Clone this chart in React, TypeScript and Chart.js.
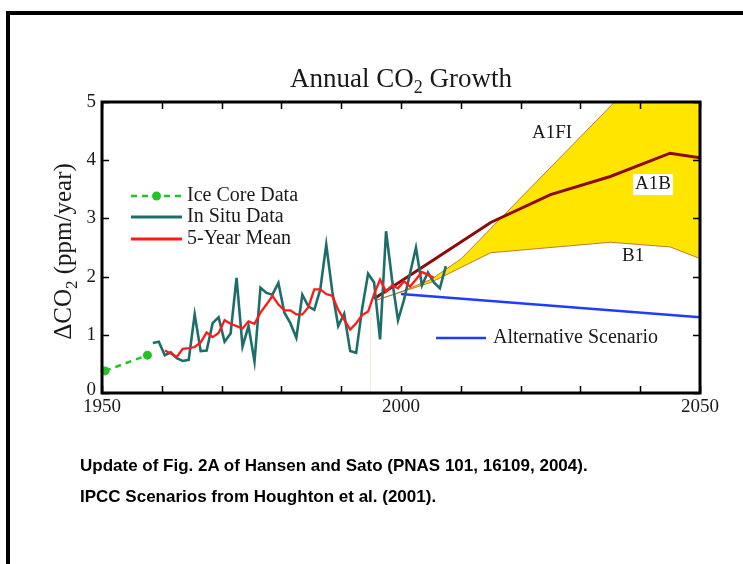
import React, { useEffect, useRef } from "react";
import { Chart, registerables } from "chart.js";

Chart.register(...registerables);

// ---------- data ----------
const iceCoreYears = [1950.5, 1957.6];
const iceCoreValues = [0.38, 0.65];

const inSituYears = [
  1958.5, 1959.5, 1960.5, 1961.5, 1962.5, 1963.5, 1964.5, 1965.5, 1966.5, 1967.5,
  1968.5, 1969.5, 1970.5, 1971.5, 1972.5, 1973.5, 1974.5, 1975.5, 1976.5, 1977.5,
  1978.5, 1979.5, 1980.5, 1981.5, 1982.5, 1983.5, 1984.5, 1985.5, 1986.5, 1987.5,
  1988.5, 1989.5, 1990.5, 1991.5, 1992.5, 1993.5, 1994.5, 1995.5, 1996.5, 1997.5,
  1998.5, 1999.5, 2000.5, 2001.5, 2002.5, 2003.5, 2004.5, 2005.5, 2006.5, 2007.5,
];
const inSituValues = [
  0.86, 0.88, 0.65, 0.7, 0.6, 0.55, 0.57, 1.35, 0.72, 0.73,
  1.2, 1.3, 0.88, 1.02, 1.98, 0.8, 1.15, 0.54, 1.81, 1.72,
  1.69, 1.89, 1.38, 1.2, 0.95, 1.69, 1.49, 1.43, 1.78, 2.55,
  1.75, 1.15, 1.36, 0.72, 0.69, 1.45, 2.05, 1.9, 0.92, 2.78,
  1.95, 1.25, 1.6, 2.05, 2.5, 1.85, 2.07, 1.9, 1.8, 2.18,
];

const meanYears = [
  1960.5, 1961.5, 1962.5, 1963.5, 1964.5, 1965.5, 1966.5, 1967.5, 1968.5, 1969.5,
  1970.5, 1971.5, 1972.5, 1973.5, 1974.5, 1975.5, 1976.5, 1977.5, 1978.5, 1979.5,
  1980.5, 1981.5, 1982.5, 1983.5, 1984.5, 1985.5, 1986.5, 1987.5, 1988.5, 1989.5,
  1990.5, 1991.5, 1992.5, 1993.5, 1994.5, 1995.5, 1996.5, 1997.5, 1998.5, 1999.5,
  2000.5, 2001.5, 2002.5, 2003.5, 2004.5, 2005.5,
];
const meanValues = [
  0.73, 0.68, 0.62, 0.76, 0.77, 0.79, 0.87, 1.04, 0.96, 1.03,
  1.25, 1.19, 1.15, 1.11, 1.23, 1.19, 1.38, 1.52, 1.67, 1.52,
  1.42, 1.42, 1.35, 1.35, 1.47, 1.78, 1.78, 1.7, 1.67, 1.43,
  1.26, 1.09, 1.2, 1.34, 1.4, 1.7, 1.95, 1.74, 1.85, 1.8,
  1.92, 1.83, 1.95, 2.08, 2.03, 1.98,
];

const a1fiYears = [1996, 2000, 2005, 2010, 2020, 2030, 2040, 2050];
const a1fiValues = [1.6, 1.74, 1.95, 2.3, 3.35, 4.4, 5.45, 6.5];

const a1bYears = [1995.5, 2015, 2025, 2035, 2045, 2050];
const a1bValues = [1.62, 2.93, 3.41, 3.72, 4.12, 4.04];

const b1Years = [1996, 2005, 2015, 2035, 2045, 2050];
const b1Values = [1.6, 1.9, 2.41, 2.59, 2.51, 2.31];

const altYears = [2000, 2050];
const altValues = [1.7, 1.3];

const guideYears = [1994.9, 1994.9];
const guideValues = [0, 1.6];

const xTickValues = [1950, 1960, 1970, 1980, 1990, 2000, 2010, 2020, 2030, 2040, 2050];
const xLabelValues = [1950, 2000, 2050];
const xLabels = ["1950", "2000", "2050"];
const yTickValues = [0, 1, 2, 3, 4, 5];
const yLabels = ["0", "1", "2", "3", "4", "5"];

const legendLabels = ["Ice Core Data", "In Situ Data", "5-Year Mean"];
const altLabel = "Alternative Scenario";
const scenarioLabels = ["A1FI", "A1B", "B1"];

// ---------- helpers ----------
const pts = (xs: number[], ys: number[]) => xs.map((x, i) => ({ x, y: ys[i] }));

const SERIF = '"Liberation Serif", "Times New Roman", serif';
const TEXT = "#1a1a1a";

const overlayPlugin = {
  id: "overlay",
  afterDraw(chart: any) {
    const { ctx, chartArea: a, scales } = chart;
    const x = scales.x;
    const y = scales.y;
    ctx.save();

    // axes frame
    ctx.strokeStyle = "#000";
    ctx.lineWidth = 3;
    ctx.strokeRect(a.left, a.top, a.right - a.left, a.bottom - a.top);

    // inward ticks
    ctx.lineWidth = 1.5;
    ctx.beginPath();
    xTickValues.forEach((v) => {
      const px = Math.round(x.getPixelForValue(v)) + 0.5;
      ctx.moveTo(px, a.bottom);
      ctx.lineTo(px, a.bottom - 7);
      ctx.moveTo(px, a.top);
      ctx.lineTo(px, a.top + 7);
    });
    yTickValues.forEach((v) => {
      const py = Math.round(y.getPixelForValue(v)) + 0.5;
      ctx.moveTo(a.left, py);
      ctx.lineTo(a.left + 7, py);
      ctx.moveTo(a.right, py);
      ctx.lineTo(a.right - 7, py);
    });
    ctx.stroke();

    // tick labels
    ctx.fillStyle = TEXT;
    ctx.font = `19px ${SERIF}`;
    ctx.textAlign = "right";
    ctx.textBaseline = "middle";
    yTickValues.forEach((v, i) => {
      const py = y.getPixelForValue(v);
      ctx.fillText(yLabels[i], a.left - 6, v === 0 ? py - 3 : py);
    });
    ctx.textAlign = "center";
    ctx.textBaseline = "top";
    xLabelValues.forEach((v, i) => {
      ctx.fillText(xLabels[i], x.getPixelForValue(v), a.bottom + 5);
    });

    // title with subscript
    const cx = (a.left + a.right) / 2;
    ctx.textBaseline = "alphabetic";
    ctx.textAlign = "left";
    const big = `27px ${SERIF}`;
    const small = `18px ${SERIF}`;
    ctx.font = big;
    const t1 = "Annual CO";
    const t3 = " Growth";
    const w1 = ctx.measureText(t1).width;
    const w3 = ctx.measureText(t3).width;
    ctx.font = small;
    const w2 = ctx.measureText("2").width;
    const sx = cx - (w1 + w2 + w3) / 2;
    const by = a.top - 15;
    ctx.font = big;
    ctx.fillText(t1, sx, by);
    ctx.font = small;
    ctx.fillText("2", sx + w1, by + 6);
    ctx.font = big;
    ctx.fillText(t3, sx + w1 + w2, by);

    // y-axis title (rotated)
    ctx.save();
    ctx.translate(a.left - 31, (a.top + a.bottom) / 2 + 4);
    ctx.rotate(-Math.PI / 2);
    const u1 = "\u0394CO";
    const u3 = " (ppm/year)";
    ctx.font = `25px ${SERIF}`;
    const v1 = ctx.measureText(u1).width;
    const v3 = ctx.measureText(u3).width;
    ctx.font = `17px ${SERIF}`;
    const v2 = ctx.measureText("2").width;
    const ux = -(v1 + v2 + v3) / 2;
    ctx.font = `25px ${SERIF}`;
    ctx.fillText(u1, ux, 0);
    ctx.font = `17px ${SERIF}`;
    ctx.fillText("2", ux + v1, 6);
    ctx.font = `25px ${SERIF}`;
    ctx.fillText(u3, ux + v1 + v2, 0);
    ctx.restore();

    // legend inside the plot
    ctx.font = `20px ${SERIF}`;
    ctx.textBaseline = "middle";
    ctx.textAlign = "left";
    const lx0 = a.left + 29;
    const lx1 = a.left + 80;
    const rows = [a.top + 94, a.top + 115, a.top + 137];
    ctx.strokeStyle = "#22c322";
    ctx.lineWidth = 2.5;
    ctx.setLineDash([6, 5]);
    ctx.beginPath();
    ctx.moveTo(lx0, rows[0]);
    ctx.lineTo(lx1, rows[0]);
    ctx.stroke();
    ctx.setLineDash([]);
    ctx.fillStyle = "#22c322";
    ctx.beginPath();
    ctx.arc((lx0 + lx1) / 2, rows[0], 4.5, 0, Math.PI * 2);
    ctx.fill();
    ctx.strokeStyle = "#1d6e6a";
    ctx.lineWidth = 3;
    ctx.beginPath();
    ctx.moveTo(lx0, rows[1]);
    ctx.lineTo(lx1, rows[1]);
    ctx.stroke();
    ctx.strokeStyle = "#ff1a1a";
    ctx.beginPath();
    ctx.moveTo(lx0, rows[2]);
    ctx.lineTo(lx1, rows[2]);
    ctx.stroke();
    ctx.fillStyle = TEXT;
    legendLabels.forEach((t, i) => ctx.fillText(t, lx1 + 5, rows[i]));

    // alternative scenario legend
    const ay = a.top + 236;
    ctx.strokeStyle = "#1f3cff";
    ctx.lineWidth = 2.5;
    ctx.beginPath();
    ctx.moveTo(a.left + 334, ay);
    ctx.lineTo(a.left + 384, ay);
    ctx.stroke();
    ctx.fillText(altLabel, a.left + 391, ay);

    // scenario labels
    ctx.font = `19px ${SERIF}`;
    ctx.fillText(scenarioLabels[0], a.left + 430, a.top + 31);
    const a1bw = ctx.measureText(scenarioLabels[1]).width;
    ctx.fillStyle = "#fff";
    ctx.fillRect(a.left + 531, a.top + 72, a1bw + 4, 21);
    ctx.fillStyle = TEXT;
    ctx.fillText(scenarioLabels[1], a.left + 533, a.top + 82);
    ctx.fillText(scenarioLabels[2], a.left + 520, a.top + 154);

    ctx.restore();
  },
};

function CO2Chart() {
  const ref = useRef<HTMLCanvasElement | null>(null);
  useEffect(() => {
    if (!ref.current) return;
    const chart = new Chart(ref.current, {
      type: "line",
      data: {
        datasets: [
          {
            label: "B1",
            data: pts(b1Years, b1Values),
            borderColor: "#c0773a",
            borderWidth: 1,
            pointRadius: 0,
            fill: false,
            order: 8,
          },
          {
            label: "A1FI",
            data: pts(a1fiYears, a1fiValues),
            borderColor: "#c0773a",
            borderWidth: 1,
            pointRadius: 0,
            backgroundColor: "#ffe500",
            fill: { target: 0, above: "#ffe500", below: "#ffe500" },
            order: 7,
          },
          {
            label: "A1B",
            data: pts(a1bYears, a1bValues),
            borderColor: "#8e0a0a",
            borderWidth: 3,
            pointRadius: 0,
            fill: false,
            order: 5,
          },
          {
            label: "Alternative Scenario",
            data: pts(altYears, altValues),
            borderColor: "#1f3cff",
            borderWidth: 2.5,
            pointRadius: 0,
            fill: false,
            order: 6,
          },
          {
            label: "guide",
            data: pts(guideYears, guideValues),
            borderColor: "#f6edd2",
            borderWidth: 1,
            pointRadius: 0,
            fill: false,
            order: 9,
          },
          {
            label: "In Situ Data",
            data: pts(inSituYears, inSituValues),
            borderColor: "#1d6e6a",
            borderWidth: 2.6,
            pointRadius: 0,
            fill: false,
            order: 3,
          },
          {
            label: "5-Year Mean",
            data: pts(meanYears, meanValues),
            borderColor: "#ff1a1a",
            borderWidth: 2.3,
            pointRadius: 0,
            fill: false,
            order: 2,
          },
          {
            label: "Ice Core Data",
            data: pts(iceCoreYears, iceCoreValues),
            borderColor: "#22c322",
            backgroundColor: "#22c322",
            borderWidth: 2.5,
            borderDash: [6, 5],
            pointRadius: 4.5,
            pointBorderWidth: 0,
            fill: false,
            order: 4,
            clip: false as any,
          },
        ],
      },
      options: {
        responsive: false,
        animation: false,
        devicePixelRatio: 1,
        layout: { padding: { left: 102, right: 43, top: 102, bottom: 171 } },
        plugins: {
          legend: { display: false },
          title: { display: false },
          tooltip: { enabled: false },
          filler: { drawTime: "beforeDatasetsDraw" } as any,
        },
        scales: {
          x: { type: "linear", min: 1950, max: 2050, display: false },
          y: { type: "linear", min: 0, max: 5, display: false },
        },
      },
      plugins: [overlayPlugin],
    });
    return () => chart.destroy();
  }, []);
  return <canvas ref={ref} width={743} height={564} style={{ position: "absolute", left: 0, top: 0 }} />;
}

export default function App() {
  const caption: React.CSSProperties = {
    position: "absolute",
    left: 80,
    fontFamily: '"Liberation Sans", Arial, sans-serif',
    fontWeight: "bold",
    fontSize: 17,
    lineHeight: "18px",
    color: "#000",
    whiteSpace: "nowrap",
  };
  return (
    <div style={{ position: "fixed", left: 0, top: 0, width: 743, height: 564, background: "#fff", overflow: "hidden" }}>
      <CO2Chart />
      <div style={{ position: "absolute", left: 6, top: 11, width: 800, height: 600, borderTop: "4px solid #000", borderLeft: "4px solid #000" }} />
      <div style={{ ...caption, top: 457 }}>Update of Fig. 2A of Hansen and Sato (PNAS 101, 16109, 2004).</div>
      <div style={{ ...caption, top: 488 }}>IPCC Scenarios from Houghton et al. (2001).</div>
    </div>
  );
}
